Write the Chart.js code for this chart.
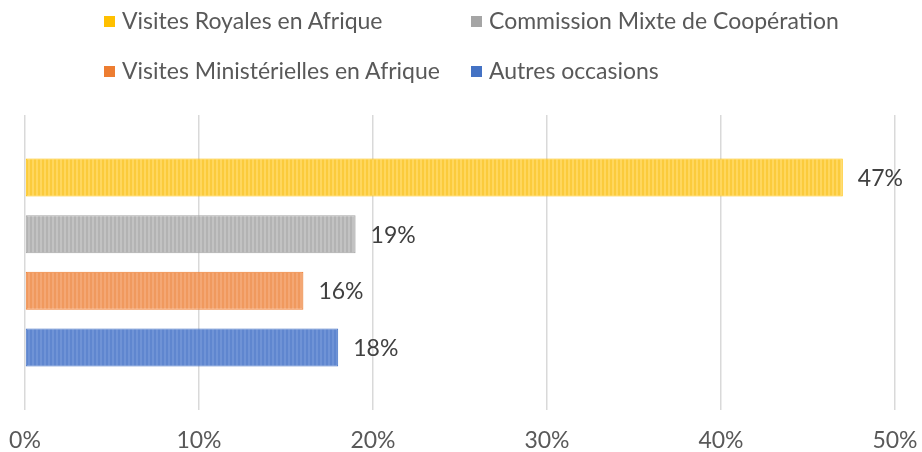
<!DOCTYPE html>
<html>
<head>
<meta charset="utf-8">
<script src="https://cdn.jsdelivr.net/npm/chart.js@4/dist/chart.umd.min.js"></script>
<style>
  html, body { margin: 0; padding: 0; background: #ffffff; }
  #wrap { position: relative; width: 922px; height: 452px; }
  #c { position: absolute; left: 0; top: 0; }
  .leg { position: absolute; font-family: Lato, "Open Sans", sans-serif; font-size: 23px; color: #595959; white-space: nowrap; line-height: 24px; }
  .leg span.box { display: inline-block; width: 11px; height: 11px; margin-right: 7px; vertical-align: 2px; }
</style>
</head>
<body>
<div id="wrap">
  <canvas id="c" width="922" height="452"></canvas>
</div>
<script>
// ---- data ----
const categories = [''];
const seriesNames = [
  'Visites Royales en Afrique',
  'Commission Mixte de Coopération',
  'Visites Ministérielles en Afrique',
  'Autres occasions'
];
const seriesValues = [47, 19, 16, 18];
const tickValues = [0, 10, 20, 30, 40, 50];
const tickLabels = ['0%', '10%', '20%', '30%', '40%', '50%'];

// ---- styles ----
const baseColors = ['#FFC000', '#A5A5A5', '#ED7D31', '#4472C4'];
const stripeA = ['#FFD75E', '#C2C2C2', '#F4A774', '#6F93D6'];
const stripeB = ['#FBCB3C', '#B3B3B3', '#F0995E', '#5F86CF'];

function makePattern(a, b) {
  const off = document.createElement('canvas');
  off.width = 4; off.height = 1;
  const octx = off.getContext('2d');
  octx.fillStyle = a; octx.fillRect(0, 0, 2, 1);
  octx.fillStyle = b; octx.fillRect(2, 0, 2, 1);
  return document.getElementById('c').getContext('2d').createPattern(off, 'repeat');
}

// ---- HTML legend (2 x 2) ----
const legendPos = [[104, 8], [471, 8], [104, 58], [471, 58]];
const wrap = document.getElementById('wrap');
seriesNames.forEach((name, i) => {
  const d = document.createElement('div');
  d.className = 'leg';
  d.style.left = legendPos[i][0] + 'px';
  d.style.top = legendPos[i][1] + 'px';
  const b = document.createElement('span');
  b.className = 'box';
  b.style.background = baseColors[i];
  d.appendChild(b);
  d.appendChild(document.createTextNode(name));
  wrap.appendChild(d);
});

const datasets = seriesNames.map((name, i) => ({
  label: name,
  data: [seriesValues[i]],
  backgroundColor: makePattern(stripeA[i], stripeB[i]),
  borderColor: baseColors[i],
  borderWidth: 1,
  borderSkipped: false,
  categoryPercentage: 0.768,
  barPercentage: 0.67
}));

const valueLabels = {
  id: 'valueLabels',
  afterDatasetsDraw(chart) {
    const ctx = chart.ctx;
    ctx.save();
    ctx.font = '23px Lato, "Open Sans", sans-serif';
    ctx.fillStyle = '#404040';
    ctx.textAlign = 'left';
    ctx.textBaseline = 'middle';
    chart.data.datasets.forEach((ds, i) => {
      const meta = chart.getDatasetMeta(i);
      meta.data.forEach((el, j) => {
        ctx.fillText(ds.data[j] + '%', el.x + 15, el.y + 1);
      });
    });
    ctx.restore();
  }
};

new Chart(document.getElementById('c'), {
  type: 'bar',
  data: { labels: categories, datasets },
  plugins: [valueLabels],
  options: {
    indexAxis: 'y',
    responsive: false,
    animation: false,
    layout: { padding: { top: 115, left: 25, right: 27, bottom: 0 } },
    plugins: { legend: { display: false }, tooltip: { enabled: false } },
    scales: {
      x: {
        min: tickValues[0],
        max: tickValues[tickValues.length - 1],
        afterBuildTicks(axis) { axis.ticks = tickValues.map(v => ({ value: v })); },
        afterFit(axis) { axis.height = 42; axis.paddingLeft = 0; axis.paddingRight = 0; },
        grid: { color: '#D9D9D9', lineWidth: 1.5, drawTicks: false },
        border: { display: false },
        ticks: {
          padding: 17,
          maxRotation: 0,
          color: '#595959',
          font: { family: 'Lato, "Open Sans", sans-serif', size: 23 },
          callback(v) { return tickLabels[tickValues.indexOf(v)]; }
        }
      },
      y: { display: false }
    }
  }
});
</script>
</body>
</html>
